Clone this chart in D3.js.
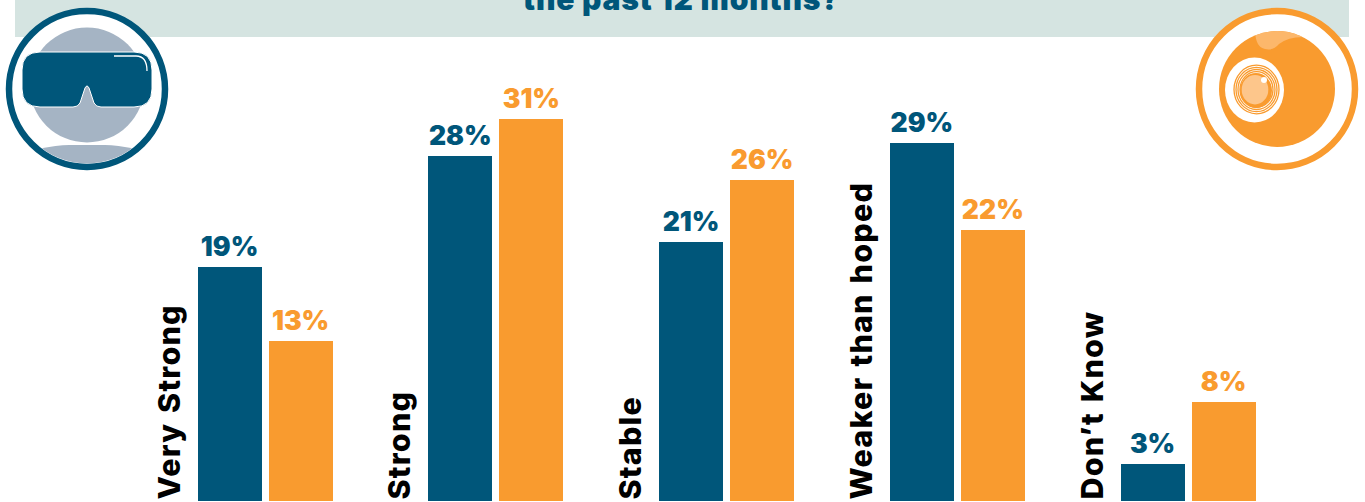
<!DOCTYPE html>
<html><head><meta charset="utf-8">
<script src="https://cdn.jsdelivr.net/npm/d3@7"></script>
<style>html,body{margin:0;padding:0;background:#fff;overflow:hidden}svg{display:block}text{font-family:Inter,"Open Sans",sans-serif}</style>
</head><body><svg id="c" width="1365" height="502"></svg>
<script>
const categories = ["Very Strong","Strong","Stable","Weaker than hoped","Don\u2019t Know"];
const seriesNames = ["VR","Camera"];
const seriesA = [19,28,21,29,3];
const seriesB = [13,31,26,22,8];
const titleLine = "the past 12 months?";
const navy="#00567a", orange="#f99b2f", pale="#d5e4e1", grey="#a5b4c4";

const svg=d3.select("#c");
svg.append("rect").attr("x",15).attr("y",0).attr("width",1334).attr("height",37).attr("fill",pale);
svg.append("text").attr("x",681.5).attr("y",10).attr("text-anchor","middle")
  .attr("font-size",30).attr("font-weight",900).attr("letter-spacing",0.8).attr("fill",navy).text(titleLine);

const x0=d3.scaleBand().domain(categories).range([197.6,1255.6]).paddingInner(0.415);
const x1=d3.scaleBand().domain(seriesNames).range([0,x0.bandwidth()]).paddingInner(0.0986);
const y=d3.scaleLinear().domain([0,31]).range([500.9,118.6]);
const cols=d3.scaleOrdinal().domain(seriesNames).range([navy,orange]);
const rows=categories.map((c,i)=>({c,vals:[{s:seriesNames[0],v:seriesA[i]},{s:seriesNames[1],v:seriesB[i]}]}));
const g=svg.selectAll("g.cat").data(rows).join("g").attr("class","cat").attr("transform",d=>`translate(${x0(d.c)},0)`);
g.selectAll("rect").data(d=>d.vals).join("rect").attr("shape-rendering","crispEdges")
  .attr("x",d=>x1(d.s)).attr("y",d=>y(d.v)).attr("width",x1.bandwidth()).attr("height",d=>y(0)-y(d.v)).attr("fill",d=>cols(d.s));
g.selectAll("text.val").data(d=>d.vals).join("text").attr("class","val")
  .attr("x",d=>x1(d.s)+x1.bandwidth()/2).attr("y",d=>y(d.v)-11).attr("text-anchor","middle")
  .attr("font-size",26.5).attr("font-weight",900).attr("fill",d=>cols(d.s)).text(d=>d.v+"%");
g.append("text").attr("transform",`translate(-18,499.5) rotate(-90)`)
  .attr("font-size",30.5).attr("font-weight",800).attr("letter-spacing",1.2).attr("word-spacing",2).attr("fill","#000").text(d=>d.c);

// left icon
const L=svg.append("g").attr("transform","translate(87,89)");
L.append("circle").attr("r",78).attr("fill","#fff").attr("stroke",navy).attr("stroke-width",6.5);
L.append("clipPath").attr("id","lc").append("circle").attr("r",74.5);
L.append("circle").attr("cy",-4).attr("r",57.5).attr("fill",grey);
L.append("path").attr("clip-path","url(#lc)").attr("d","M-48,60 Q-30,56 -18,56 H18 Q30,56 48,60 L60,90 H-60 Z").attr("fill",grey);
L.append("path").attr("d","M-47,-37 H47 Q65,-37 65,-19 V0 Q65,18 47,18 H14 Q9,18 7,14 L2,-1 Q0,-5 -2,-1 L-7,14 Q-9,18 -14,18 H-47 Q-65,18 -65,0 V-19 Q-65,-37 -47,-37 Z")
  .attr("fill",navy).attr("stroke","#fff").attr("stroke-width",1);
L.append("path").attr("d","M27,-33 H49 Q60,-33 60,-18").attr("fill","none").attr("stroke","#fff").attr("stroke-width",1.3);

// right icon
const R=svg.append("g").attr("transform","translate(1277,89)");
R.append("circle").attr("r",78).attr("fill","#fff").attr("stroke",orange).attr("stroke-width",6.5);
R.append("clipPath").attr("id","rc").append("circle").attr("r",58);
R.append("circle").attr("r",58).attr("fill",orange);
R.append("path").attr("clip-path","url(#rc)").attr("d","M-22,-60 Q-22,-42 -12,-40 Q-4,-38 2,-45 Q12,-53 30,-52 L20,-62 Z").attr("fill","#fcb76b");
R.append("ellipse").attr("cx",-22.5).attr("cy",1).attr("rx",29.5).attr("ry",32.5).attr("fill","#fff");
[22.5,20.5,18.5,16.5].forEach(r=>R.append("ellipse").attr("cx",-20.5).attr("cy",0.5).attr("rx",r).attr("ry",r*1.08).attr("fill","none").attr("stroke",orange).attr("stroke-width",1.3));
R.append("ellipse").attr("cx",-21).attr("cy",1.5).attr("rx",16).attr("ry",17.5).attr("fill",orange);
R.append("ellipse").attr("cx",-22).attr("cy",0.7).attr("rx",13.3).attr("ry",14.7).attr("fill","#fdc68b");
R.append("circle").attr("cx",-13).attr("cy",-9).attr("r",3).attr("fill","#fff");
</script></body></html>
